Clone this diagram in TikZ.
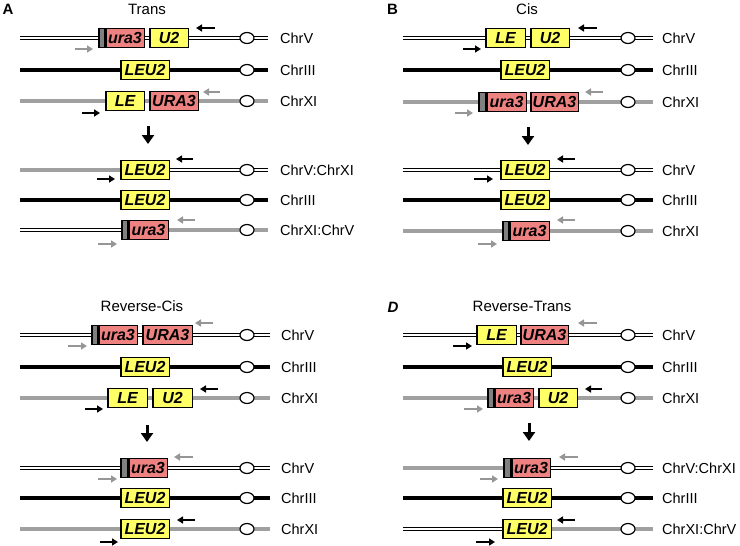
\documentclass[tikz,border=0pt]{standalone}
\usepackage{fontspec}
\setmainfont{Liberation Sans}
\usetikzlibrary{arrows.meta,shapes.geometric,backgrounds}
\definecolor{geneyellow}{RGB}{255,255,102}
\definecolor{genepink}{RGB}{238,130,128}
\definecolor{seggray}{RGB}{128,128,128}
\definecolor{chrgray}{RGB}{160,160,160}
\definecolor{primgray}{RGB}{150,150,150}
\newcommand\genefont{\fontsize{16}{16}\selectfont\bfseries\itshape}
\newcommand\labfont{\fontsize{14.5}{14.5}\selectfont}
\newcommand\ttlfont{\fontsize{15}{15}\selectfont}
\newcommand\GeneBox[6]{\node[genebox,fill=#1,minimum width={(#4-#3-1.5)*1pt}] (#2) at ({(#3+#4)/2},#5) {#6};}
\newcommand\ChrSeg[5]{\coordinate (#1l) at (#3,#5); \coordinate (#1r) at (#4,#5); \draw[#2] (#1l) -- (#1r);}
\newcommand\Primer[5]{\coordinate (#1t) at (#3,#5); \coordinate (#1h) at (#4,#5); \draw[#2] (#1t) -- (#1h);}
\tikzset{
  dbl/.style={line width=1.1pt, double=white, double distance=2.4pt},
  blk/.style={line width=4.6pt, black},
  gry/.style={line width=4.6pt, chrgray},
  genebox/.style={draw=black, line width=1.5pt, minimum height=19pt, inner sep=0pt, font=\genefont},
  centro/.style={ellipse, draw=black, fill=white, line width=1.2pt, minimum width=14pt, minimum height=11pt, inner sep=0pt},
  parrb/.style={line width=2pt, black, -{Triangle[width=7pt,length=6pt]}},
  parrg/.style={line width=2pt, primgray, -{Triangle[width=7pt,length=6pt]}},
  downarr/.style={line width=3pt, black, -{Triangle[width=12pt,length=9pt]}},
  chrlab/.style={anchor=west, inner sep=0pt, font=\labfont},
  ttl/.style={inner sep=0pt, font=\ttlfont},
  panlab/.style={inner sep=0pt, font=\fontsize{15}{15}\selectfont\bfseries},
}
\begin{document}
\begin{tikzpicture}[x=1pt,y=-1pt]
\useasboundingbox (0,0) rectangle (740,546);
% ---------- titles ----------
\node[panlab] (labA) at (8,9.5) {A};
\node[panlab] (labB) at (392.5,9) {B};
\node[panlab,font=\fontsize{15}{15}\selectfont\bfseries\itshape] (labD) at (393,307) {D};
\node[ttl] (tA) at (147,9) {Trans};
\node[ttl] (tB) at (527,9.5) {Cis};
\node[ttl] (tC) at (142,306) {Reverse-Cis};
\node[ttl] (tD) at (522,306) {Reverse-Trans};
% ---------- Panel A ----------
\GeneBox{seggray}{A1s}{98}{105}{38}{}
\GeneBox{genepink}{A1u}{105}{145}{38}{ura3}
\GeneBox{geneyellow}{A1b}{149}{189}{38}{U2}
\GeneBox{geneyellow}{A2b}{120}{170}{70}{LEU2}
\GeneBox{geneyellow}{A3a}{105}{145}{101}{LE}
\GeneBox{genepink}{A3b}{149}{199}{101}{URA3}
\GeneBox{geneyellow}{A4b}{120}{170}{170}{LEU2}
\GeneBox{geneyellow}{A5b}{120}{170}{200}{LEU2}
\GeneBox{seggray}{A6s}{121}{128}{230}{}
\GeneBox{genepink}{A6u}{128}{169}{230}{ura3}
\foreach \r/\y in {1/38,2/70,3/101,4/170,5/200,6/230}{\node[centro] (A\r c) at (247,\y) {};}
\node[chrlab] (A1n) at (280,38) {ChrV};
\node[chrlab] (A2n) at (280,70) {ChrIII};
\node[chrlab] (A3n) at (280,101) {ChrXI};
\node[chrlab] (A4n) at (280,170) {ChrV:ChrXI};
\node[chrlab] (A5n) at (280,200) {ChrIII};
\node[chrlab] (A6n) at (280,230) {ChrXI:ChrV};
\Primer{A1p}{parrb}{215}{196}{28}
\Primer{A1q}{parrg}{75}{93}{49}
\Primer{A3p}{parrg}{220}{203}{92}
\Primer{A3q}{parrb}{82}{100}{113}
\Primer{A4p}{parrb}{193}{176}{159}
\Primer{A4q}{parrb}{97}{115}{179}
\Primer{A6p}{parrg}{195}{177}{220}
\Primer{A6q}{parrg}{98}{117}{244}
\coordinate (Adt) at (148,126); \coordinate (Adh) at (148,144);
\draw[downarr] (Adt) -- (Adh);
% ---------- Panel B ----------
\GeneBox{geneyellow}{B1a}{485}{526}{38}{LE}
\GeneBox{geneyellow}{B1b}{530}{570}{38}{U2}
\GeneBox{geneyellow}{B2b}{500}{550}{70}{LEU2}
\GeneBox{seggray}{B3s}{478}{486}{102}{}
\GeneBox{genepink}{B3u}{486}{527}{102}{ura3}
\GeneBox{genepink}{B3b}{530}{579}{102}{URA3}
\GeneBox{geneyellow}{B4b}{500}{550}{170}{LEU2}
\GeneBox{geneyellow}{B5b}{500}{550}{200}{LEU2}
\GeneBox{seggray}{B6s}{502}{509}{231}{}
\GeneBox{genepink}{B6u}{509}{550}{231}{ura3}
\foreach \r/\y in {1/38,2/70,3/102,4/170,5/200,6/231}{\node[centro] (B\r c) at (628,\y) {};}
\node[chrlab] (B1n) at (662,38) {ChrV};
\node[chrlab] (B2n) at (662,70) {ChrIII};
\node[chrlab] (B3n) at (662,102) {ChrXI};
\node[chrlab] (B4n) at (662,170) {ChrV};
\node[chrlab] (B5n) at (662,200) {ChrIII};
\node[chrlab] (B6n) at (662,231) {ChrXI};
\Primer{B1p}{parrb}{597}{578}{28}
\Primer{B1q}{parrb}{463}{481}{49}
\Primer{B3p}{parrg}{603}{585}{92}
\Primer{B3q}{parrg}{455}{473}{113}
\Primer{B4p}{parrb}{575}{557}{159}
\Primer{B4q}{parrb}{474}{493}{179}
\Primer{B6p}{parrg}{575}{557}{220}
\Primer{B6q}{parrg}{478}{497}{244}
\coordinate (Bdt) at (528,127); \coordinate (Bdh) at (528,145);
\draw[downarr] (Bdt) -- (Bdh);
% ---------- Panel C ----------
\GeneBox{seggray}{C1s}{91}{98}{335}{}
\GeneBox{genepink}{C1u}{98}{138}{335}{ura3}
\GeneBox{genepink}{C1b}{142}{193}{335}{URA3}
\GeneBox{geneyellow}{C2b}{120}{170}{367}{LEU2}
\GeneBox{geneyellow}{C3a}{107}{148}{398}{LE}
\GeneBox{geneyellow}{C3b}{152}{193}{398}{U2}
\GeneBox{seggray}{C4s}{120}{128}{468}{}
\GeneBox{genepink}{C4u}{128}{168}{468}{ura3}
\GeneBox{geneyellow}{C5b}{120}{170}{498}{LEU2}
\GeneBox{geneyellow}{C6b}{120}{170}{529}{LEU2}
\foreach \r/\y in {1/335,2/367,3/398,4/468,5/498,6/529}{\node[centro] (C\r c) at (247,\y) {};}
\node[chrlab] (C1n) at (281,335) {ChrV};
\node[chrlab] (C2n) at (281,367) {ChrIII};
\node[chrlab] (C3n) at (281,398) {ChrXI};
\node[chrlab] (C4n) at (281,468) {ChrV};
\node[chrlab] (C5n) at (281,498) {ChrIII};
\node[chrlab] (C6n) at (281,529) {ChrXI};
\Primer{C1p}{parrg}{213}{195}{323}
\Primer{C1q}{parrg}{68}{87}{346}
\Primer{C3p}{parrb}{218}{200}{389}
\Primer{C3q}{parrb}{85}{103}{409}
\Primer{C4p}{parrg}{193}{174}{457}
\Primer{C4q}{parrg}{98}{117}{479}
\Primer{C6p}{parrb}{195}{177}{520}
\Primer{C6q}{parrb}{100}{118}{542}
\coordinate (Cdt) at (147,425); \coordinate (Cdh) at (147,442);
\draw[downarr] (Cdt) -- (Cdh);
% ---------- Panel D ----------
\GeneBox{geneyellow}{D1a}{476}{517}{335}{LE}
\GeneBox{genepink}{D1b}{520}{569}{335}{URA3}
\GeneBox{geneyellow}{D2b}{502}{552}{367}{LEU2}
\GeneBox{seggray}{D3s}{487}{494}{398}{}
\GeneBox{genepink}{D3u}{494}{534}{398}{ura3}
\GeneBox{geneyellow}{D3b}{538}{578}{398}{U2}
\GeneBox{seggray}{D4s}{503}{511}{468}{}
\GeneBox{genepink}{D4u}{511}{551}{468}{ura3}
\GeneBox{geneyellow}{D5b}{502}{552}{498}{LEU2}
\GeneBox{geneyellow}{D6b}{502}{552}{529}{LEU2}
\foreach \r/\y in {1/335,2/367,3/398,4/468,5/498,6/529}{\node[centro] (D\r c) at (628,\y) {};}
\node[chrlab] (D1n) at (662,335) {ChrV};
\node[chrlab] (D2n) at (662,367) {ChrIII};
\node[chrlab] (D3n) at (662,398) {ChrXI};
\node[chrlab] (D4n) at (662,468) {ChrV:ChrXI};
\node[chrlab] (D5n) at (662,498) {ChrIII};
\node[chrlab] (D6n) at (662,529) {ChrXI:ChrV};
\Primer{D1p}{parrg}{597}{578}{323}
\Primer{D1q}{parrb}{453}{472}{346}
\Primer{D3p}{parrb}{602}{585}{389}
\Primer{D3q}{parrg}{464}{483}{409}
\Primer{D4p}{parrg}{578}{559}{457}
\Primer{D4q}{parrg}{480}{498}{479}
\Primer{D6p}{parrb}{575}{557}{520}
\Primer{D6q}{parrb}{476}{495}{542}
\coordinate (Ddt) at (529,423); \coordinate (Ddh) at (529,441);
\draw[downarr] (Ddt) -- (Ddh);
% ---------- chromosome lines (behind) ----------
\begin{pgfonlayer}{background}
\ChrSeg{A1}{dbl}{20}{268}{38}
\ChrSeg{A2}{blk}{20}{268}{70}
\ChrSeg{A3}{gry}{20}{268}{101}
\coordinate (A4l) at (20,170); \coordinate (A4r) at (268,170);
\draw[gry] (A4l) -- (A4b.center); \draw[dbl] (A4b.center) -- (A4r);
\ChrSeg{A5}{blk}{20}{268}{200}
\coordinate (A6l) at (20,230); \coordinate (A6r) at (268,230);
\draw[dbl] (A6l) -- (A6s.center); \draw[gry] (A6u.center) -- (A6r);
\ChrSeg{B1}{dbl}{403}{653}{38}
\ChrSeg{B2}{blk}{403}{653}{70}
\ChrSeg{B3}{gry}{403}{653}{102}
\ChrSeg{B4}{dbl}{403}{653}{170}
\ChrSeg{B5}{blk}{403}{653}{200}
\ChrSeg{B6}{gry}{403}{653}{231}
\ChrSeg{C1}{dbl}{20}{270}{335}
\ChrSeg{C2}{blk}{20}{270}{367}
\ChrSeg{C3}{gry}{20}{270}{398}
\ChrSeg{C4}{dbl}{20}{270}{468}
\ChrSeg{C5}{blk}{20}{270}{498}
\ChrSeg{C6}{gry}{20}{270}{529}
\ChrSeg{D1}{dbl}{403}{653}{335}
\ChrSeg{D2}{blk}{403}{653}{367}
\ChrSeg{D3}{gry}{403}{653}{398}
\coordinate (D4l) at (403,468); \coordinate (D4r) at (653,468);
\draw[gry] (D4l) -- (D4s.center); \draw[dbl] (D4u.center) -- (D4r);
\ChrSeg{D5}{blk}{403}{653}{498}
\coordinate (D6l) at (403,529); \coordinate (D6r) at (653,529);
\draw[dbl] (D6l) -- (D6b.center); \draw[gry] (D6b.center) -- (D6r);
\end{pgfonlayer}
\end{tikzpicture}
\end{document}
